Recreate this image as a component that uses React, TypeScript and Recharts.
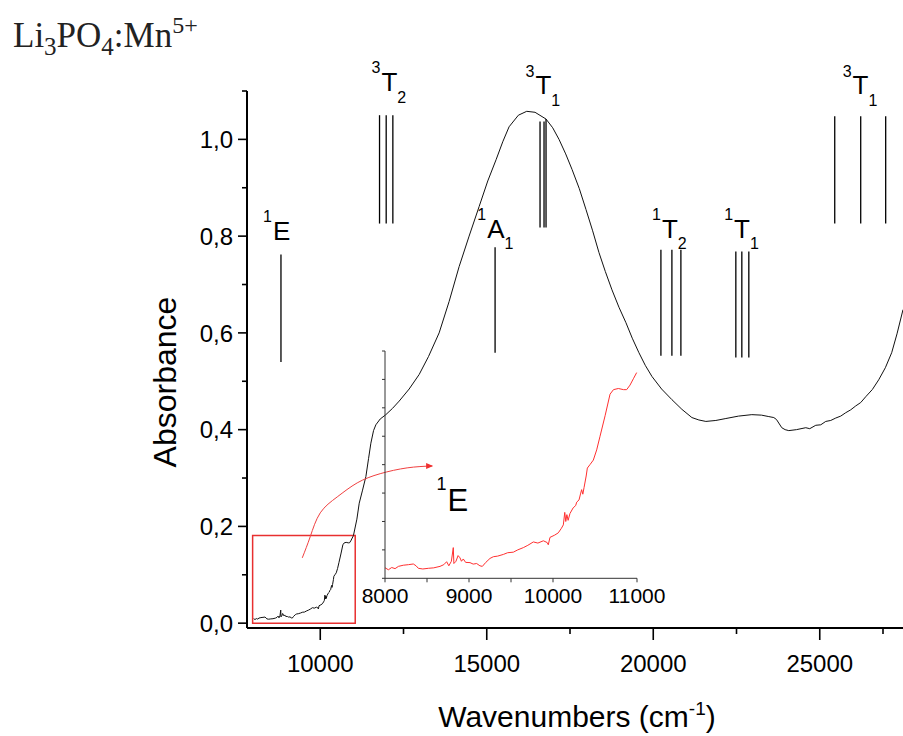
import React from "react";
import {
  LineChart,
  Line,
  XAxis,
  YAxis,
  ReferenceLine,
  ReferenceArea,
  ReferenceDot,
  Label,
} from "recharts";

// absorbance 8000–11000 cm-1 (main trace and zoomed inset)
const lowWave = [
  8000, 8040, 8080, 8120, 8160, 8218, 8280, 8337, 8370, 8397, 8450, 8516, 8580,
  8655, 8700, 8734, 8760, 8790, 8813, 8820, 8845, 8870, 8893, 8910, 8932, 8960,
  9012, 9050, 9091, 9130, 9159, 9200, 9250, 9290, 9340, 9409, 9460, 9528, 9580,
  9647, 9700, 9766, 9820, 9885, 9930, 9944, 9964, 10020, 10063, 10100, 10123,
  10140, 10152, 10165, 10180, 10202, 10240, 10270, 10282, 10310, 10330, 10341,
  10355, 10370, 10395, 10409, 10440, 10480, 10520, 10560, 10620, 10679, 10720,
  10778, 10840, 10877, 10917, 10960, 10996,
];
const lowAbs = [
  0.0093, 0.0075, 0.0095, 0.0085, 0.0105, 0.0115, 0.012, 0.0126, 0.011, 0.0088,
  0.0082, 0.0088, 0.0092, 0.0105, 0.012, 0.0146, 0.011, 0.015, 0.027, 0.013,
  0.015, 0.02, 0.018, 0.015, 0.017, 0.014, 0.0138, 0.0125, 0.013, 0.011, 0.0105,
  0.014, 0.0175, 0.019, 0.0195, 0.021, 0.0225, 0.023, 0.025, 0.027, 0.029, 0.032,
  0.031, 0.033, 0.0315, 0.0295, 0.036, 0.038, 0.04, 0.044, 0.047, 0.058, 0.05,
  0.056, 0.051, 0.057, 0.062, 0.064, 0.067, 0.069, 0.075, 0.078, 0.074, 0.08,
  0.09, 0.097, 0.1, 0.104, 0.113, 0.125, 0.143, 0.162, 0.166, 0.167, 0.166, 0.166,
  0.17, 0.176, 0.181,
];

// absorbance above 11000 cm-1
const highWave = [
  11100, 11170, 11270, 11370, 11450, 11520, 11600, 11670, 11800, 11970, 12170,
  12370, 12670, 12970, 13250, 13570, 13870, 14170, 14470, 14770, 15030, 15280,
  15480, 15670, 15950, 16200, 16450, 16780, 16980, 17170, 17370, 17560, 17780,
  17980, 18180, 18370, 18560, 18760, 18970, 19180, 19370, 19570, 19760, 19960,
  20250, 20560, 20860, 21160, 21370, 21580, 21880, 22180, 22560, 22960, 23250,
  23470, 23620, 23700, 23860, 23960, 24070, 24300, 24580, 24700, 24880, 25030,
  25180, 25330, 25480, 25630, 25780, 25930, 26080, 26230, 26380, 26580, 26770,
  26970, 27160, 27320, 27500,
];
const highAbs = [
  0.215, 0.248, 0.275, 0.303, 0.34, 0.372, 0.398, 0.41, 0.422, 0.431, 0.444,
  0.459, 0.484, 0.514, 0.551, 0.6, 0.665, 0.737, 0.8, 0.861, 0.914, 0.958,
  0.995, 1.026, 1.05, 1.058, 1.056, 1.042, 1.024, 1.0, 0.97, 0.938, 0.898, 0.855,
  0.811, 0.766, 0.727, 0.689, 0.653, 0.621, 0.589, 0.559, 0.533, 0.51, 0.484,
  0.462, 0.442, 0.425, 0.42, 0.417, 0.419, 0.423, 0.428, 0.431, 0.43, 0.427,
  0.425, 0.421, 0.404, 0.4, 0.398, 0.4, 0.404, 0.402, 0.409, 0.41, 0.417, 0.419,
  0.424, 0.428, 0.435, 0.441, 0.449, 0.456, 0.468, 0.483, 0.503, 0.528, 0.559,
  0.598, 0.648,
];

// curved pointer from the boxed region to the inset
const arrowWave = [9460, 9700, 10000, 10510, 11110, 11800, 12610, 13360];
const arrowAbs = [0.135, 0.179, 0.228, 0.261, 0.29, 0.309, 0.321, 0.325];

// box around the zoomed region
const boxWave = [7969, 11050];
const boxAbs = [0, 0.181];

// level bars: [wavenumber, bottom, top]
const levelBars = [
  [8820, 0.54, 0.762],
  [11780, 0.826, 1.05],
  [11980, 0.826, 1.05],
  [12180, 0.826, 1.05],
  [15250, 0.559, 0.777],
  [16600, 0.818, 1.037],
  [16720, 0.818, 1.037],
  [16780, 0.818, 1.042],
  [20230, 0.553, 0.772],
  [20560, 0.553, 0.772],
  [20830, 0.553, 0.772],
  [22480, 0.549, 0.768],
  [22660, 0.549, 0.768],
  [22870, 0.549, 0.768],
  [25450, 0.826, 1.048],
  [26230, 0.826, 1.048],
  [26980, 0.826, 1.048],
];

// term symbols: sup, letter, sub, wavenumber, absorbance (baseline)
const termNames = [
  ["1", "E", "", 8840, 0.792],
  ["3", "T", "2", 12075, 1.1],
  ["1", "A", "1", 15275, 0.797],
  ["3", "T", "1", 16700, 1.093],
  ["1", "T", "2", 20500, 0.797],
  ["1", "T", "1", 22665, 0.797],
  ["3", "T", "1", 26225, 1.093],
];

const mainXTicks = [10000, 12500, 15000, 17500, 20000, 22500, 25000, 27500];
const mainYTicks = [0, 0.1, 0.2, 0.3, 0.4, 0.5, 0.6, 0.7, 0.8, 0.9, 1.0, 1.1];
const insetXTicks = [8000, 8500, 9000, 9500, 10000, 10500, 11000];
const insetYTicks = [0, 0.025, 0.05, 0.075, 0.1, 0.125, 0.15, 0.175, 0.2];

const lowSeries = lowWave.map((x, i) => ({ x, a: lowAbs[i] }));
const mainSeries = lowSeries.concat(highWave.map((x, i) => ({ x, a: highAbs[i] })));
const arrowSeries = arrowWave.map((x, i) => ({ x, y: arrowAbs[i] }));

const SANS = "'Liberation Sans', Arial, sans-serif";
const SERIF = "'Liberation Serif', 'Times New Roman', serif";

function TermText({ cx, cy, sup, main, sub, size, supSize }: any) {
  const half = (main === "T" ? 0.611 : 0.667) * size * 0.5;
  return (
    <g fontFamily={SANS} fill="#000">
      <text x={cx - half - 1} y={cy - size * 0.68} fontSize={supSize} textAnchor="end">
        {sup}
      </text>
      <text x={cx} y={cy} fontSize={size} textAnchor="middle">
        {main}
      </text>
      {sub && (
        <text x={cx + half} y={cy + supSize * 0.72} fontSize={supSize} textAnchor="start">
          {sub}
        </text>
      )}
    </g>
  );
}

function MainYTick({ x, y, payload }: any) {
  const v = payload.value;
  const major = Math.round(v * 10) % 2 === 0 && v < 1.05;
  return (
    <g>
      <line x1={x - (major ? 9 : 5)} x2={x} y1={y} y2={y} stroke="#000" strokeWidth={1.6} />
      {major && (
        <text x={x - 14} y={y} dy="0.36em" textAnchor="end" fontSize={24} fontFamily={SANS} fill="#000">
          {v.toFixed(1).replace(".", ",")}
        </text>
      )}
    </g>
  );
}

function MainXTick({ x, y, payload }: any) {
  const v = payload.value;
  const major = v % 5000 === 0;
  return (
    <g>
      <line x1={x} x2={x} y1={y} y2={y + (major ? 12 : 6)} stroke="#000" strokeWidth={1.6} />
      {major && (
        <text x={x} y={y + 44} textAnchor="middle" fontSize={24} fontFamily={SANS} fill="#000">
          {v}
        </text>
      )}
    </g>
  );
}

function InsetXTick({ x, y, payload }: any) {
  const v = payload.value;
  return (
    <g>
      <line x1={x} x2={x} y1={y} y2={y + 4} stroke="#333" strokeWidth={1} />
      {v % 1000 === 0 && (
        <text x={x} y={y + 25} textAnchor="middle" fontSize={21} fontFamily={SANS} fill="#000">
          {v}
        </text>
      )}
    </g>
  );
}

function InsetYTick({ x, y }: any) {
  return <line x1={x - 3} x2={x} y1={y} y2={y} stroke="#333" strokeWidth={1} />;
}

function ArrowHead(props: any) {
  const { cx, cy, index } = props;
  if (index !== arrowSeries.length - 1) return <g key={index} />;
  return (
    <path key={index} d={`M${cx + 1},${cy} L${cx - 6},${cy - 3} L${cx - 6},${cy + 3} Z`} fill="#f03030" />
  );
}

export default function App() {
  return (
    <div style={{ position: "absolute", left: 0, top: 0, width: 903, height: 736, background: "#fff" }}>
      <svg width={280} height={70} style={{ position: "absolute", left: 0, top: 0 }}>
        <text x={13} y={47} fontFamily={SERIF} fontSize={35} fill="#222">
          Li
          <tspan fontSize={25} dy={8}>3</tspan>
          <tspan fontSize={35} dy={-8}>PO</tspan>
          <tspan fontSize={25} dy={8}>4</tspan>
          <tspan fontSize={35} dy={-8}>:Mn</tspan>
          <tspan fontSize={24} dy={-14}>5+</tspan>
        </text>
      </svg>

      <div style={{ position: "absolute", left: 0, top: 0 }}>
        <LineChart width={903} height={736} margin={{ top: 91, right: 0, bottom: 48, left: 147 }}>
          <XAxis
            dataKey="x"
            type="number"
            domain={[7800, 27500]}
            ticks={mainXTicks}
            allowDataOverflow
            height={60}
            tickSize={0}
            tickMargin={0}
            tick={<MainXTick />}
            axisLine={{ stroke: "#000", strokeWidth: 2 }}
            tickLine={false}
          >
            <Label
              content={({ viewBox }: any) => (
                <text
                  x={viewBox.x + 330}
                  y={viewBox.y + 99}
                  textAnchor="middle"
                  fontSize={30}
                  fontFamily={SANS}
                  fill="#000"
                >
                  Wavenumbers (cm
                  <tspan fontSize={19} dy={-12}>-1</tspan>
                  <tspan dy={12}>)</tspan>
                </text>
              )}
            />
          </XAxis>
          <YAxis
            type="number"
            domain={[-0.01, 1.1]}
            ticks={mainYTicks}
            allowDataOverflow
            width={100}
            tickSize={0}
            tickMargin={0}
            tick={<MainYTick />}
            axisLine={{ stroke: "#000", strokeWidth: 2 }}
            tickLine={false}
          >
            <Label
              content={({ viewBox }: any) => (
                <text
                  x={viewBox.x + 29}
                  y={382}
                  transform={`rotate(-90 ${viewBox.x + 29} 382)`}
                  textAnchor="middle"
                  fontSize={32}
                  fontFamily={SANS}
                  fill="#000"
                >
                  Absorbance
                </text>
              )}
            />
          </YAxis>

          <ReferenceArea
            x1={boxWave[0]}
            x2={boxWave[1]}
            y1={boxAbs[0]}
            y2={boxAbs[1]}
            fill="none"
            fillOpacity={0}
            stroke="#e83030"
            strokeWidth={1.5}
            ifOverflow="visible"
          />

          {levelBars.map(([x, y1, y2], i) => (
            <ReferenceLine
              key={i}
              segment={[
                { x, y: y1 },
                { x, y: y2 },
              ]}
              stroke="#000"
              strokeWidth={1.3}
              ifOverflow="visible"
            />
          ))}

          {termNames.map(([sup, main, sub, x, y], i) => (
            <ReferenceDot
              key={"t" + i}
              x={x as number}
              y={y as number}
              r={0}
              ifOverflow="visible"
              shape={(p: any) => (
                <TermText cx={p.cx} cy={p.cy} sup={sup} main={main} sub={sub} size={26} supSize={16} />
              )}
            />
          ))}

          <Line
            data={mainSeries}
            dataKey="a"
            type="linear"
            stroke="#111"
            strokeWidth={1}
            dot={false}
            isAnimationActive={false}
          />
          <Line
            data={arrowSeries}
            dataKey="y"
            type="natural"
            stroke="#f04040"
            strokeWidth={1}
            dot={ArrowHead}
            isAnimationActive={false}
          />
        </LineChart>
      </div>

      <div style={{ position: "absolute", left: 300, top: 330 }}>
        <LineChart width={400} height={300} margin={{ top: 21, right: 63, bottom: 11.7, left: 65 }}>
          <XAxis
            dataKey="x"
            type="number"
            domain={[8000, 11000]}
            ticks={insetXTicks}
            height={40}
            tickSize={0}
            tickMargin={0}
            tick={<InsetXTick />}
            axisLine={{ stroke: "#333", strokeWidth: 1 }}
            tickLine={false}
          />
          <YAxis
            type="number"
            domain={[0, 0.2]}
            ticks={insetYTicks}
            width={20}
            tickSize={0}
            tickMargin={0}
            tick={<InsetYTick />}
            axisLine={{ stroke: "#333", strokeWidth: 1 }}
            tickLine={false}
          />
          <ReferenceDot
            x={8867}
            y={0.0594}
            r={0}
            ifOverflow="visible"
            shape={(p: any) => <TermText cx={p.cx} cy={p.cy} sup="1" main="E" sub="" size={31} supSize={18} />}
          />
          <Line
            data={lowSeries}
            dataKey="a"
            type="linear"
            stroke="#ff3030"
            strokeWidth={1}
            dot={false}
            isAnimationActive={false}
          />
        </LineChart>
      </div>
    </div>
  );
}
